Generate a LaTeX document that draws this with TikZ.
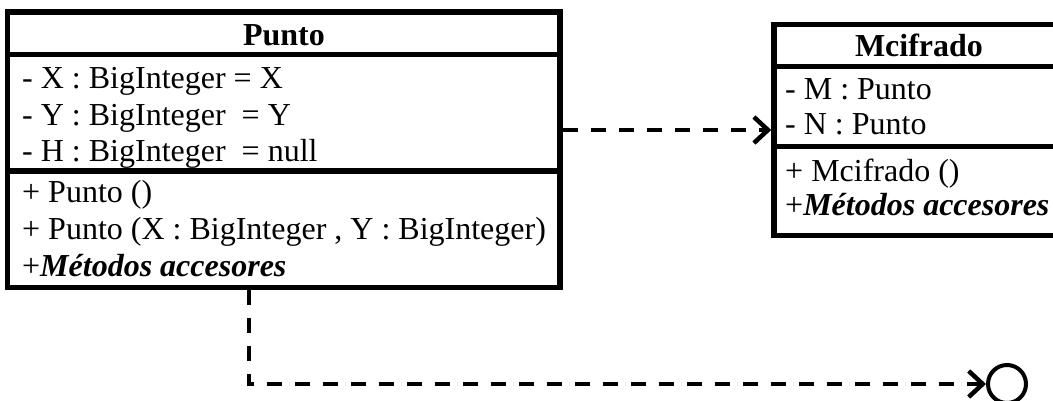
\documentclass[tikz,border=0pt]{standalone}
\usepackage{fontspec}
\setmainfont{Liberation Serif}
\usetikzlibrary{arrows.meta}

\begin{document}
\begin{tikzpicture}[x=1pt, y=-1pt,
  classbox/.style={draw, line width=5.5pt, inner sep=0pt, fill=white},
  divider/.style={line width=5.5pt},
  member/.style={anchor=base west, inner sep=0pt, font=\fontsize{32}{36}\selectfont},
  classname/.style={anchor=base, inner sep=0pt, font=\fontsize{32}{36}\selectfont\bfseries},
  dep/.style={line width=4.5pt, dash pattern=on 15pt off 13pt,
    -{Straight Barb[length=14pt, width=26pt]}},
  iface/.style={draw, circle, line width=4pt, minimum size=38pt, inner sep=0pt}
]
\clip (0,0) rectangle (1053,400);
\fill[white] (0,0) rectangle (1053,400);

% class Punto
\node[classbox, minimum width=552.5pt, minimum height=275.5pt] (punto) at (283.75,149.75) {};
\draw[divider] (punto.west |- 0,54.5) -- (punto.east |- 0,54.5);
\draw[divider] (punto.west |- 0,171) -- (punto.east |- 0,171);
\node[classname] (ptitle) at (284,45) {Punto};
\node[member] (pa1) at (22,88) {- X : BigInteger = X};
\node[member] (pa2) at (22,125) {- Y : BigInteger \ = Y};
\node[member] (pa3) at (22,161) {- H : BigInteger \ = null};
\node[member] (pm1) at (22,202) {+ Punto ()};
\node[member] (pm2) at (22,239) {+ Punto (X : BigInteger , Y : BigInteger)};
\node[member] (pm3) at (22,276) {+\textbf{\textit{Métodos accesores}}};

% class Mcifrado
\node[classbox, minimum width=290pt, minimum height=211pt] (mcif) at (919,130) {};
\draw[divider] (mcif.west |- 0,66.5) -- (mcif.east |- 0,66.5);
\draw[divider] (mcif.west |- 0,146.5) -- (mcif.east |- 0,146.5);
\node[classname] (mtitle) at (919,56) {Mcifrado};
\node[member] (ma1) at (785,99) {- M : Punto};
\node[member] (ma2) at (785,134) {- N : Punto};
\node[member] (mm1) at (785,181) {+ Mcifrado ()};
\node[member] (mm2) at (785,215) {+\textbf{\textit{Métodos accesores}}};

% interface (lollipop)
\node[iface] (itf) at (1007,384) {};

% dependencies
\coordinate (pout) at (punto.east |- 0,130);
\coordinate (min) at (mcif.west |- 0,130);
\draw[dep] (pout) -- (min);
\coordinate (pdown) at (249,290);
\draw[dep] (pdown) |- (itf.west);
\end{tikzpicture}
\end{document}
